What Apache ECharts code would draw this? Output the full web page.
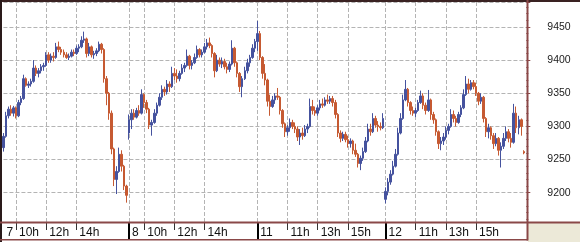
<!DOCTYPE html>
<html><head><meta charset="utf-8">
<script src="https://cdn.jsdelivr.net/npm/echarts@6/dist/echarts.min.js"></script>
<style>html,body{margin:0;padding:0;background:#fff}#c{width:580px;height:242px}</style>
</head><body><div id="c"></div>
<script>
// ---- data ----
const days = ['7','8','11','12'];
const sessionStart = ['09:10','09:00','09:00','09:00'];
const sessionEnd = ['17:20','17:20','17:20','18:20'];
const hourLabels = [['10h','12h','14h'],['10h','12h','14h'],['11h','13h','15h'],['11h','13h','15h']];
const stepMinutes = 10;

const opens = [
9268,9285,9316,9326,9320,9328,9316,9336,9342,9372,
9362,9364,9368,9388,9380,9384,9390,9392,9408,9400,
9406,9404,9420,9416,9412,9408,9404,9406,9412,9410,
9418,9420,9430,9432,9410,9420,9408,9410,9414,9424,
9416,9372,9350,9320,9266,9220,9232,9258,9240,9210,
9290,9310,9320,9314,9324,9320,9348,9336,9326,9302,
9306,9320,9332,9344,9356,9352,9364,9360,9380,9376,
9372,9380,9388,9392,9406,9392,9396,9404,9416,9408,
9412,9420,9426,9422,9410,9384,9400,9394,9398,9390,
9386,9394,9418,9396,9380,9360,9372,9384,9396,9404,
9418,
9428,9440,9404,9380,9370,9338,9330,9340,9346,9344,
9324,9304,9292,9298,9306,9300,9296,9284,9290,9286,
9296,9300,9330,9324,9320,9328,9334,9332,9340,9338,
9342,9336,9318,9290,9282,9288,9280,9274,9278,9264,
9258,9244,9252,9262,9278,9296,9292,9312,9302,9300,
9298,
9190,9202,9216,9228,9240,9258,9290,9312,9340,9356,
9336,9324,9320,9324,9336,9346,9332,9324,9340,9318,
9310,9292,9274,9278,9284,9294,9300,9318,9312,9306,
9318,9328,9348,9364,9356,9366,9360,9350,9338,9344,
9312,9292,9298,9286,9274,9282,9264,9270,9282,9292,
9282,9276,9320,9298,9310,9262];
const closes = [
9285,9316,9326,9320,9328,9316,9336,9342,9372,9362,
9364,9368,9388,9380,9384,9390,9392,9408,9400,9406,
9404,9420,9416,9412,9408,9404,9406,9412,9410,9418,
9420,9430,9432,9410,9420,9408,9410,9414,9424,9416,
9372,9350,9320,9266,9220,9232,9258,9240,9210,9196,
9310,9320,9314,9324,9320,9348,9336,9326,9302,9306,
9320,9332,9344,9356,9352,9364,9360,9380,9376,9372,
9380,9388,9392,9406,9392,9396,9404,9416,9408,9412,
9420,9426,9422,9410,9384,9400,9394,9398,9390,9386,
9394,9418,9396,9380,9360,9372,9384,9396,9404,9418,
9428,
9440,9404,9380,9370,9338,9330,9340,9346,9344,9324,
9304,9292,9298,9306,9300,9296,9284,9290,9286,9296,
9300,9330,9324,9320,9328,9334,9332,9340,9338,9342,
9336,9318,9290,9282,9288,9280,9274,9278,9264,9258,
9244,9252,9262,9278,9296,9292,9312,9302,9300,9298,
9312,
9202,9216,9228,9240,9258,9290,9312,9340,9356,9336,
9324,9320,9324,9336,9346,9332,9324,9340,9318,9310,
9292,9274,9278,9284,9294,9300,9318,9312,9306,9318,
9328,9348,9364,9356,9366,9360,9350,9338,9344,9312,
9292,9298,9286,9274,9282,9264,9270,9282,9292,9282,
9276,9320,9298,9310,9300,9260];
const highs = [
9290,9322,9330,9332,9331,9330,9340,9346,9378,9374,
9368,9372,9400,9392,9388,9394,9396,9412,9412,9410,
9412,9426,9428,9420,9416,9412,9410,9416,9416,9422,
9424,9436,9443,9434,9426,9422,9414,9418,9428,9426,
9418,9376,9352,9324,9268,9240,9268,9264,9242,9212,
9318,9326,9326,9328,9332,9356,9350,9340,9328,9310,
9326,9336,9350,9362,9360,9370,9368,9390,9388,9386,
9384,9394,9396,9416,9408,9400,9410,9422,9418,9416,
9426,9432,9434,9424,9412,9408,9404,9404,9402,9396,
9398,9430,9420,9398,9382,9376,9390,9402,9408,9424,
9432,
9459,9444,9406,9394,9372,9348,9346,9350,9358,9346,
9326,9306,9302,9312,9310,9306,9300,9296,9298,9302,
9304,9342,9340,9330,9332,9340,9342,9344,9348,9346,
9346,9340,9320,9294,9292,9292,9286,9282,9280,9274,
9260,9256,9268,9284,9304,9304,9320,9316,9308,9306,
9320,
9208,9222,9234,9248,9266,9298,9320,9348,9370,9358,
9338,9330,9328,9340,9354,9350,9336,9355,9342,9322,
9312,9294,9284,9290,9300,9304,9326,9324,9316,9322,
9332,9356,9376,9372,9370,9370,9366,9352,9350,9346,
9314,9304,9300,9290,9290,9284,9276,9290,9300,9296,
9290,9334,9330,9316,9312,9264];
const lows = [
9262,9283,9312,9316,9315,9312,9314,9332,9340,9360,
9358,9360,9366,9376,9374,9380,9384,9390,9396,9396,
9398,9402,9412,9408,9404,9402,9400,9404,9406,9408,
9412,9418,9426,9404,9406,9404,9402,9406,9412,9410,
9366,9332,9310,9258,9210,9198,9230,9232,9204,9185,
9280,9296,9310,9312,9316,9318,9328,9320,9296,9286,
9304,9316,9330,9340,9346,9348,9352,9358,9370,9366,
9368,9378,9382,9390,9386,9386,9394,9402,9404,9404,
9410,9416,9418,9404,9374,9382,9390,9388,9386,9380,
9382,9392,9390,9374,9352,9344,9370,9380,9390,9402,
9412,
9414,9400,9372,9362,9330,9316,9328,9334,9340,9318,
9298,9284,9286,9292,9296,9290,9278,9272,9280,9284,
9290,9298,9318,9316,9316,9324,9328,9330,9334,9334,
9330,9312,9284,9276,9278,9276,9268,9268,9258,9254,
9238,9234,9248,9260,9276,9286,9290,9298,9292,9294,
9296,
9184,9196,9212,9226,9238,9256,9288,9310,9338,9330,
9318,9316,9314,9322,9334,9326,9318,9322,9310,9304,
9286,9266,9264,9272,9280,9288,9298,9306,9300,9304,
9314,9326,9346,9350,9354,9356,9346,9332,9334,9306,
9284,9282,9280,9266,9270,9256,9238,9266,9278,9276,
9268,9274,9290,9288,9286,9258];

// ---- build categories / tick labels ----
function toMin(s){const p=s.split(':');return +p[0]*60 + +p[1];}
const categories = [], tickText = [], isDayStart = [];
days.forEach((d,k)=>{
  for(let t=toMin(sessionStart[k]); t<=toMin(sessionEnd[k]); t+=stepMinutes){
    const h=Math.floor(t/60), m=t%60;
    categories.push(d+' '+String(h).padStart(2,'0')+':'+String(m).padStart(2,'0'));
    const first = t===toMin(sessionStart[k]);
    isDayStart.push(first);
    if(first) tickText.push(d);
    else if(m===0 && hourLabels[k].indexOf(h+'h')>=0) tickText.push(h+'h');
    else tickText.push('');
  }
});
const ohlc = opens.map((o,i)=>[o, closes[i], lows[i], highs[i]]);

const BROWN = '#8a4848';
const grid = {left:3.43, right:53.7, top:2, bottom:20};
const chart = echarts.init(document.getElementById('c'), null, {renderer:'canvas'});
const dashed = {color:'#b4b4b4', width:1, type:[4,2]};
chart.setOption({
  animation:false,
  backgroundColor:'#ffffff',
  grid: grid,
  xAxis:[{
    type:'category', data:categories, boundaryGap:false, position:'bottom',
    axisLine:{show:false},
    axisTick:{show:true, length:8, interval:(i)=>tickText[i]!=='' && !isDayStart[i], lineStyle:{color:'#333', width:1}},
    axisLabel:{show:true, interval:(i)=>tickText[i]!=='', formatter:(v,i)=>tickText[i],
      align:'left', padding:[0,0,0,3], margin:5, fontSize:12, fontFamily:'Liberation Sans', color:'#111',
      verticalAlign:'top', lineHeight:12},
    splitLine:{show:true, interval:(i)=>tickText[i]!=='' && i>0, lineStyle:dashed}
  },{
    type:'category', data:categories, boundaryGap:false, position:'bottom',
    axisLine:{show:false}, axisLabel:{show:false}, splitLine:{show:false},
    axisTick:{show:true, length:17, interval:(i)=>isDayStart[i] && i>0, lineStyle:{color:'#000', width:2}}
  }],
  yAxis:{
    type:'value', position:'right', min:9155.8, max:9487.7, splitNumber:5, scale:true,
    axisLine:{show:false},
    axisTick:{show:true, length:4, lineStyle:{color:BROWN}},
    minorTick:{show:true, splitNumber:5, length:2, lineStyle:{color:BROWN}},
    axisLabel:{margin:21, fontSize:10.5, fontFamily:'Liberation Sans', color:'#222', showMinLabel:false, showMaxLabel:false,
      formatter:(v)=>String(Math.round(v))},
    splitLine:{show:true, lineStyle:dashed}
  },
  series:[{
    type:'candlestick', data:ohlc, barWidth:2, xAxisIndex:0,
    itemStyle:{color:'#45529e', color0:'#c65a32', borderColor:'#45529e', borderColor0:'#c65a32', borderWidth:1}
  }],
  graphic:[
    {type:'rect', z:100, shape:{x:528, y:222, width:52, height:20}, style:{fill:'#ece9d8'}},
    {type:'rect', z:100, shape:{x:0, y:0, width:580, height:2}, style:{fill:'#3a2222'}},
    {type:'rect', z:100, shape:{x:0, y:0, width:2, height:242}, style:{fill:'#2a1a1a'}},
    {type:'rect', z:100, shape:{x:0, y:221.5, width:580, height:2}, style:{fill:BROWN}},
    {type:'rect', z:100, shape:{x:526.5, y:0, width:2, height:240.5}, style:{fill:BROWN}},
    {type:'rect', z:100, shape:{x:0, y:239, width:528, height:1.5}, style:{fill:BROWN}}
  ]
});
</script></body></html>
